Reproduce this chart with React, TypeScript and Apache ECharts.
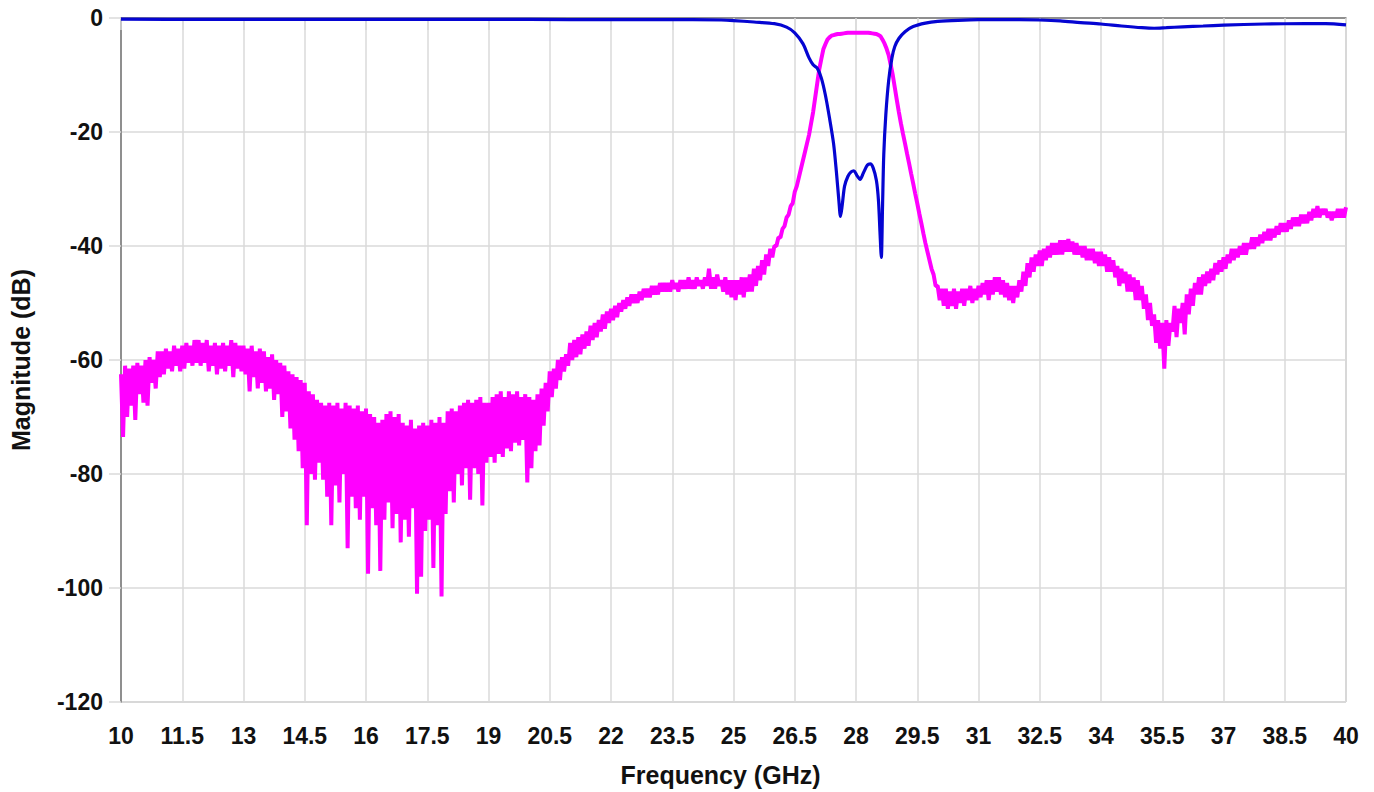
import React, { useEffect, useRef } from "react";
import * as echarts from "echarts";

// Frequency axis (GHz) and magnitude axis (dB)
const freqMin = 10;
const freqMax = 40;
const freqStep = 1.5;
const dbMin = -120;
const dbMax = 0;
const dbStep = 20;

// Magenta trace: upper peaks sampled at 10.0, 10.1, ... 40.0 GHz
const pinkPeakStart = 10;
const pinkTroughStart = 10.05;
const pinkSampleStep = 0.1;
const pinkPeaks = [
  -62.5, -61, -61.5, -61, -60.5, -61, -60, -59.5, -60, -58.5, // 10
  -58.5, -58, -58.5, -57.5, -58, -57.5, -57, -57.5, -56.5, -56.5, // 11
  -57, -56.5, -57.5, -57, -57.5, -57, -57.5, -56.5, -57, -57.5, // 12
  -57.5, -58, -57.5, -58.5, -58, -58.5, -59.5, -59, -60, -60.5, // 13
  -61, -62, -62.5, -63, -63.5, -64, -65.5, -66, -67, -67.5, // 14
  -68, -67.5, -68, -67.5, -68.5, -67.5, -68, -68.5, -68, -69, // 15
  -68.5, -69.5, -70, -71, -70.5, -69.5, -69, -70, -69.5, -71, // 16
  -71.5, -70.5, -72, -71.5, -71, -71.5, -70.5, -71, -70, -71, // 17
  -69, -68.5, -69, -68, -67.5, -67, -67.5, -67, -66.5, -67.5, // 18
  -67.5, -66.5, -66, -65.5, -66.5, -65.5, -66, -65.5, -66.5, -66, // 19
  -66.5, -67, -66, -65, -64, -62, -61.5, -60, -59.5, -59, // 20
  -57, -56.5, -56, -55.5, -55, -54, -53.5, -53, -52, -51.5, // 21
  -51, -50.5, -50, -49.5, -49, -48.5, -48.5, -48, -47.5, -47.5, // 22
  -47, -47, -46.5, -46.5, -46.5, -46, -46.5, -46, -46, -45.5, // 23
  -46, -45.5, -46, -45.5, -44, -45.5, -45, -46, -45.5, -46, // 24
  -46, -46, -45.5, -45.5, -45, -44, -43.5, -42.5, -41.5, -40.5, // 25
  -40, -38.5, -37, -35, -33, -30.5, -28, -25, -22, -18.5, // 26
  -14, -9, -5.5, -3.8, -3.1, -2.9, -2.8, -2.7, -2.6, -2.6, // 27
  -2.6, -2.6, -2.6, -2.6, -2.7, -2.8, -3.2, -4.5, -6.5, -10, // 28
  -14.4, -18.5, -22, -25.5, -29, -32.5, -36, -39.5, -42.5, -45, // 29
  -47, -47.5, -47.5, -48, -47.5, -48, -47.5, -47.5, -47, -47.5, // 30
  -47, -46.5, -46, -46, -45.5, -45.5, -46, -46.5, -47, -47, // 31
  -46, -44.5, -43, -42, -41.5, -40.8, -40.5, -40, -39.5, -39.5, // 32
  -39, -39, -38.8, -39.2, -39.5, -40, -40, -40.5, -40.5, -41, // 33
  -41, -41.5, -42, -42.5, -43.5, -44, -44.5, -45, -45.5, -46, // 34
  -47, -48.5, -50, -52, -53, -53.5, -53, -53.5, -50.5, -51, // 35
  -50, -48.5, -47.5, -46.5, -45.5, -45, -44.5, -44, -43, -42.5, // 36
  -42, -41.5, -40.5, -40.5, -40, -39.5, -39.5, -38.5, -38.5, -38, // 37
  -37.5, -37, -37, -36.5, -36, -36, -35.5, -35, -35, -34.5, // 38
  -34.5, -34, -33.5, -33, -33.5, -33.5, -34, -34, -33.5, -33.5, // 39
  -33.2, // 40
];

// Magenta trace: lower troughs sampled at 10.05, 10.15, ... 39.95 GHz
const pinkTroughs = [
  -73.5, -70, -68, -70.5, -66, -67.5, -68, -64, -65, -63, // 10
  -62.5, -61.5, -62, -61, -62, -61.5, -60.5, -61, -60.5, -61, // 11
  -60.5, -62, -61, -62.5, -61.5, -62, -61, -63, -61.5, -62, // 12
  -62.5, -65.5, -63, -65, -64, -65.5, -65, -67, -66, -70, // 13
  -69, -72, -74, -76, -79, -89, -80, -81, -78, -81, // 14
  -84, -89, -82, -85, -80, -93, -84, -86, -88, -84, // 15
  -97.5, -86, -89, -97, -88, -85, -89.5, -87, -92, -88, // 16
  -91, -86, -101, -98, -90, -88, -96.5, -89, -101.5, -87, // 17
  -83, -85, -80, -82, -79, -84.5, -79, -80, -85.5, -78, // 18
  -77, -78, -76.5, -77, -75.5, -76, -74.5, -75, -74, -81.5, // 19
  -79, -76, -75, -71.5, -69, -66.5, -65, -63.5, -62, -61, // 20
  -60, -59.5, -59, -58, -57.5, -56.5, -56, -55, -54.5, -53.5, // 21
  -53, -52.5, -51.5, -51, -50.5, -50, -50, -49.5, -49, -49, // 22
  -48.5, -48.5, -48, -48, -48, -47.5, -48, -47.5, -47.5, -47.5, // 23
  -47.5, -47, -47.5, -47, -47.5, -47.5, -47, -48, -48.5, -49, // 24
  -49.5, -48.5, -49, -48, -48, -47, -46, -45, -43.5, -42, // 25
  -40, -38.5, -36.5, -34.5, -32.5, -29.5, -26.5, -23.5, -20.5, -16.5, // 26
  -11.5, -7.2, -4.6, -3.4, -3, -2.8, -2.75, -2.65, -2.6, -2.6, // 27
  -2.6, -2.6, -2.6, -2.65, -2.75, -3, -3.8, -5.4, -8.2, -12.2, // 28
  -16.5, -20.3, -23.8, -27.3, -30.8, -34.3, -37.8, -41, -44, -47, // 29
  -49.5, -50.5, -51, -50.5, -51, -50, -50.5, -49.5, -50, -49.5, // 30
  -49, -48.5, -49.5, -48.5, -48, -48.5, -49, -49.5, -50, -49, // 31
  -48, -47, -45.5, -44.5, -43.5, -43.5, -42.5, -42, -41.5, -41.5, // 32
  -41.5, -41, -41, -41.5, -41.5, -42, -42.5, -42.5, -43, -43.5, // 33
  -43.5, -44.5, -44.5, -45.5, -47, -46.5, -48, -48, -49.5, -49.5, // 34
  -51, -53, -54, -57, -58, -61.5, -57.5, -55, -56, -53.5, // 35
  -55.5, -52, -50.5, -48.5, -48.5, -47, -46.5, -46, -45, -44.5, // 36
  -44, -43, -42.5, -42, -41.5, -41.5, -40.5, -40.5, -40, -39.5, // 37
  -39, -39, -38.5, -38, -37.5, -37.5, -37, -36.5, -36.5, -36, // 38
  -36, -35.5, -35, -35, -34.5, -35, -35.5, -35, -35, -35, // 39
];

// Blue trace
const blueFreq = [
  10, 12, 14, 16, 18, 20, 22, 24, 24.7, 25, 25.5, 26, 26.3, 26.5, 26.7, 26.85,
  26.95, 27.05, 27.15, 27.25, 27.35, 27.45, 27.52, 27.58, 27.62, 27.66, 27.72,
  27.8, 27.88, 27.95, 28.02, 28.1, 28.18, 28.28, 28.35, 28.42, 28.5, 28.55,
  28.59, 28.62, 28.65, 28.68, 28.73, 28.8, 28.88, 28.95, 29.05, 29.2, 29.4,
  29.7, 30, 30.5, 31, 31.5, 32, 32.5, 33, 33.5, 34, 34.5, 35, 35.3, 35.6, 36,
  36.5, 37, 38, 39, 39.5, 40,
];
const blueDb = [
  -0.2, -0.25, -0.25, -0.25, -0.25, -0.25, -0.3, -0.3, -0.35, -0.45, -0.7, -1.0,
  -1.6, -2.6, -4.5, -7, -8.2, -8.8, -10.5, -13.5, -17.5, -22, -27, -32, -34.8,
  -33, -29.5, -27.8, -27, -26.8, -27.6, -28.3, -27.2, -25.8, -25.6, -26.3,
  -28.5, -32, -38, -42, -33, -24, -17, -11, -7, -5, -3.6, -2.4, -1.5, -0.9,
  -0.6, -0.4, -0.3, -0.3, -0.3, -0.35, -0.5, -0.8, -1.05, -1.4, -1.7, -1.8,
  -1.7, -1.55, -1.4, -1.25, -1.05, -1.0, -1.0, -1.2,
];

const FONT = "'Liberation Sans', Arial, sans-serif";

export default function App() {
  const ref = useRef<HTMLDivElement>(null);

  useEffect(() => {
    if (!ref.current) return;
    const chart = echarts.init(ref.current, undefined, { renderer: "svg" });

    const pinkData: number[][] = [];
    for (let i = 0; i < pinkPeaks.length; i++) {
      const f = +(pinkPeakStart + pinkSampleStep * i).toFixed(2);
      pinkData.push([f, pinkPeaks[i]]);
      if (i < pinkTroughs.length) {
        const ft = +(pinkTroughStart + pinkSampleStep * i).toFixed(2);
        pinkData.push([ft, pinkTroughs[i]]);
      }
    }
    const blueData = blueFreq.map((f, i) => [f, blueDb[i]]);

    const gridColor = "#dadada";
    const labelStyle = {
      fontFamily: FONT,
      fontWeight: "bold" as const,
      fontSize: 23,
      color: "#111",
    };

    chart.setOption({
      animation: false,
      backgroundColor: "#ffffff",
      grid: {
        left: 121,
        right: 28,
        top: 18,
        bottom: 90,
        show: true,
        borderColor: "#a8a8a8",
        borderWidth: 1,
        containLabel: false,
      },
      xAxis: {
        type: "value",
        min: freqMin,
        max: freqMax,
        interval: freqStep,
        name: "Frequency (GHz)",
        nameLocation: "middle",
        nameGap: 60,
        nameTextStyle: { ...labelStyle, fontSize: 25, padding: [0, 26, 0, 0] },
        axisLine: { show: true, lineStyle: { color: "#777", width: 1.5 } },
        axisTick: {
          show: true,
          inside: false,
          length: 12,
          lineStyle: { color: gridColor, width: 1.5 },
        },
        axisLabel: { ...labelStyle, margin: 22 },
        splitLine: { show: true, lineStyle: { color: gridColor, width: 1.5 } },
      },
      yAxis: {
        type: "value",
        min: dbMin,
        max: dbMax,
        interval: dbStep,
        name: "Magnitude (dB)",
        nameLocation: "middle",
        nameRotate: 90,
        nameGap: 88,
        nameTextStyle: { ...labelStyle, fontSize: 25 },
        axisLine: { show: true, lineStyle: { color: "#777", width: 1.5 } },
        axisTick: {
          show: true,
          inside: false,
          length: 12,
          lineStyle: { color: gridColor, width: 1.5 },
        },
        axisLabel: { ...labelStyle, margin: 18 },
        splitLine: { show: true, lineStyle: { color: gridColor, width: 1.5 } },
      },
      series: [
        {
          type: "line",
          name: "S21",
          data: pinkData,
          showSymbol: false,
          symbol: "none",
          lineStyle: { color: "#ff00ff", width: 4 },
          z: 2,
        },
        {
          type: "line",
          name: "S11",
          data: blueData,
          showSymbol: false,
          symbol: "none",
          smooth: 0.3,
          lineStyle: { color: "#0505d2", width: 3.2 },
          z: 3,
        },
      ],
    });

    return () => chart.dispose();
  }, []);

  return (
    <div
      ref={ref}
      style={{
        position: "absolute",
        left: 0,
        top: 0,
        width: 1374,
        height: 792,
        background: "#fff",
      }}
    />
  );
}
